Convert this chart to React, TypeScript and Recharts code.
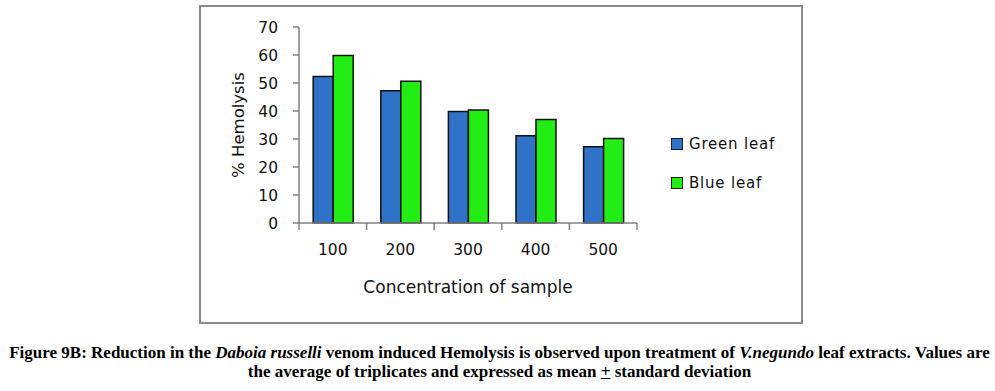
import { Bar, BarChart, Label, XAxis, YAxis } from "recharts";

const concentrations = ["100", "200", "300", "400", "500"];
const greenLeaf = [52.3, 47.2, 39.8, 31.2, 27.2];
const blueLeaf = [59.8, 50.6, 40.4, 37.0, 30.2];
const yTicks = [0, 10, 20, 30, 40, 50, 60, 70];

const series = [
    { key: "green", name: "Green leaf", color: "#3172C9" },
    { key: "blue", name: "Blue leaf", color: "#22EE16" },
];

const data = concentrations.map((conc, i) => ({
    conc,
    green: greenLeaf[i],
    blue: blueLeaf[i],
}));

const font = "'DejaVu Sans', sans-serif";
const axisGrey = "#808080";

// category tick: label at centre, tick marks on the band edges (like excel)
const CatTick = (props: any) => {
    const { x, y, payload, index, visibleTicksCount, width } = props;
    const half = width / visibleTicksCount / 2;
    const last = index === visibleTicksCount - 1;
    return (
        <g>
            <line x1={x - half} x2={x - half} y1={y} y2={y + 7} stroke={axisGrey} strokeWidth={1.5} />
            {last && <line x1={x + half} x2={x + half} y1={y} y2={y + 7} stroke={axisGrey} strokeWidth={1.5} />}
            <text x={x} y={y + 27} textAnchor="middle" dominantBaseline="central" fill="#111" fontSize={15.5} fontFamily={font}>
                {payload.value}
            </text>
        </g>
    );
};

export default function App() {
    return (
        <div style={{ position: "absolute", left: 0, top: 0, width: 995, height: 391, background: "#fff" }}>
            <div
                style={{
                    position: "absolute",
                    left: 199,
                    top: 5,
                    width: 600,
                    height: 315,
                    border: "2px solid #8a8a8a",
                }}
            />
            <div style={{ position: "absolute", left: 0, top: 0 }}>
                <BarChart
                    width={995}
                    height={330}
                    data={data}
                    margin={{ top: 27, right: 358, left: 239, bottom: 37 }}
                    barCategoryGap="21%"
                    barGap={0}
                >
                    <XAxis
                        dataKey="conc"
                        tickLine={false}
                        tickSize={0}
                        tickMargin={0}
                        interval={0}
                        axisLine={{ stroke: axisGrey, strokeWidth: 1.5 }}
                        tick={<CatTick />}
                        height={70}
                    >
                        <Label
                            value="Concentration of sample"
                            position="insideBottom"
                            offset={0}
                            style={{ fill: "#111", fontSize: 17, fontFamily: font }}
                        />
                    </XAxis>
                    <YAxis
                        domain={[0, 70]}
                        ticks={yTicks}
                        interval={0}
                        width={60}
                        tickSize={6}
                        tickMargin={15}
                        axisLine={{ stroke: axisGrey, strokeWidth: 1.5 }}
                        tickLine={{ stroke: axisGrey, strokeWidth: 1.5 }}
                        tick={{ fill: "#111", fontSize: 15.5, fontFamily: font }}
                    >
                        <Label
                            content={({ viewBox }: any) => {
                                const cx = viewBox.x - 1;
                                const cy = viewBox.y + viewBox.height / 2;
                                return (
                                    <text
                                        x={cx}
                                        y={cy}
                                        transform={`rotate(-90, ${cx}, ${cy})`}
                                        textAnchor="middle"
                                        dominantBaseline="central"
                                        style={{ fill: "#111", fontSize: 16.5, fontFamily: font }}
                                    >
                                        % Hemolysis
                                    </text>
                                );
                            }}
                        />
                    </YAxis>
                    {series.map((s) => (
                        <Bar
                            key={s.key}
                            dataKey={s.key}
                            name={s.name}
                            fill={s.color}
                            stroke="#111"
                            strokeWidth={1.5}
                            isAnimationActive={false}
                        />
                    ))}
                </BarChart>
            </div>
            <div style={{ position: "absolute", left: 671, top: 134, fontFamily: font, fontSize: 15, color: "#111" }}>
                {series.map((s) => (
                    <div key={s.key} style={{ display: "flex", alignItems: "center", height: 20, marginBottom: 19 }}>
                        <span
                            style={{
                                width: 10,
                                height: 10,
                                background: s.color,
                                border: "1.5px solid #222",
                                marginRight: 6,
                                display: "inline-block",
                            }}
                        />
                        <span style={{ letterSpacing: 0.8 }}>{s.name}</span>
                    </div>
                ))}
            </div>
            <div
                style={{
                    position: "absolute",
                    left: 2,
                    top: 343,
                    width: 995,
                    textAlign: "center",
                    fontFamily: "'Liberation Serif', serif",
                    fontWeight: "bold",
                    fontSize: 17,
                    lineHeight: "19px",
                    color: "#000",
                    whiteSpace: "nowrap",
                }}
            >
                Figure 9B: Reduction in the <i>Daboia russelli</i> venom induced Hemolysis is observed upon treatment of{" "}
                <i>V.negundo</i> leaf extracts. Values are
                <br />
                the average of triplicates and expressed as mean <u>+</u> standard deviation
            </div>
        </div>
    );
}
